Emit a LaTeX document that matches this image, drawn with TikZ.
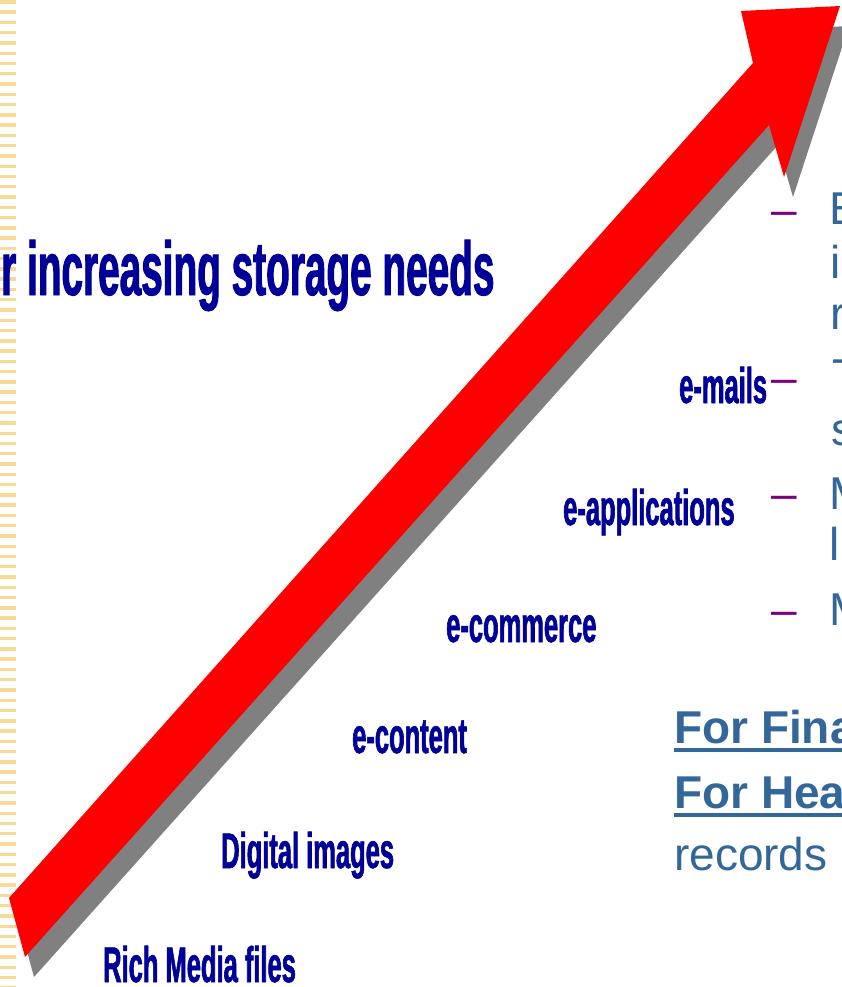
\documentclass[tikz,border=0pt]{standalone}
\usepackage{fontspec}
\setmainfont{Liberation Sans}
\newfontfamily\narrowfont[FakeStretch=0.51,FakeBold=1.2]{Liberation Sans Bold}
\definecolor{lbl}{RGB}{0,0,153}
\definecolor{txt}{RGB}{51,102,153}
\definecolor{dsh}{RGB}{128,0,128}
\definecolor{stripe}{RGB}{248,218,150}
\definecolor{shadowgrey}{RGB}{128,128,128}
\definecolor{arrowred}{RGB}{255,0,0}
\begin{document}
\begin{tikzpicture}[x=1pt,y=-1pt,
  lab/.style={anchor=base west, inner sep=0pt, text=lbl, font=\narrowfont\fontsize{50}{60}\selectfont},
  ttlstyle/.style={anchor=base west, inner sep=0pt, text=lbl, font=\narrowfont\fontsize{76}{90}\selectfont},
  body/.style={anchor=base west, inner sep=0pt, text=txt, font=\fontsize{46}{55}\selectfont},
  bodybold/.style={anchor=base west, inner sep=0pt, text=txt, font=\bfseries\fontsize{46}{55}\selectfont},
  dashmark/.style={anchor=base west, inner sep=0pt, text=dsh, font=\fontsize{46}{55}\selectfont},
  uline/.style={draw=txt, line width=4.5pt}]
\useasboundingbox (0,0) rectangle (842,987);
\fill[white] (0,0) rectangle (842,987);
% left stripe
\foreach \i in {0,...,96} \fill[stripe] (0,{\i*10.27+0.2}) rectangle (16,{\i*10.27+3.6});
% arrow shadow and arrow
\fill[shadowgrey, shift={(9,20)}] (9,898) -- (753,63) -- (741,11) -- (840,6) -- (784,177) -- (769,125) -- (25,957) -- cycle;
\fill[arrowred] (9,898) -- (753,63) -- (741,11) -- (840,6) -- (784,177) -- (769,125) -- (25,957) -- cycle;
% title
\node[ttlstyle] (ttl) at (1,295) {r increasing storage needs};
% labels along arrow
\node[lab] (mails) at (679,403) {e-mails};
\node[lab] (apps) at (563,525) {e-applications};
\node[lab] (comm) at (446,642) {e-commerce};
\node[lab] (cont) at (352,753) {e-content};
\node[lab] (digi) at (221,868) {Digital images};
\node[lab] (rich) at (103,982) {Rich Media files};
% right column (cut off)
\node[dashmark] (d1) at (771,225) {–};
\node[body] (l1) at (829,224) {E};
\node[body] (l2) at (830,278) {i};
\node[body] (l3) at (830,329) {r};
\node[dashmark] (d2) at (771,393) {–};
\node[body] (l4) at (832,391) {T};
\node[body] (l5) at (831,445) {s};
\node[dashmark] (d3) at (771,509) {–};
\node[body] (l6) at (829,509) {M};
\node[body] (l7) at (829,560) {l};
\node[dashmark] (d4) at (771,625) {–};
\node[body] (l8) at (829,625) {M};
% bottom right
\node[bodybold] (f1) at (674,743) {For Fina};
\node[bodybold] (f2) at (674,808) {For Hea};
\node[body] (r1) at (674,870) {records};
\draw[uline] ([yshift=-7pt]f1.base west) -- ([yshift=-7pt]f1.base east);
\draw[uline] ([yshift=-7pt]f2.base west) -- ([yshift=-7pt]f2.base east);
\end{tikzpicture}
\end{document}
